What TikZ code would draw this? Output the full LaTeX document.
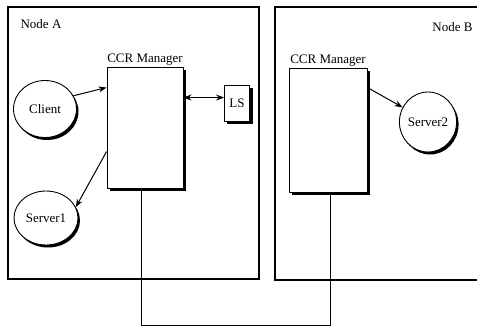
\documentclass[tikz,border=0pt]{standalone}
\usepackage{fontspec}
\setmainfont{Liberation Serif}
\usetikzlibrary{arrows.meta,shapes.geometric,shadows}
\begin{document}
\begin{tikzpicture}[
  x=1pt, y=-1pt,
  every node/.style = {font=\fontsize{13}{15}\selectfont},
  ccrframe/.style = {draw, line width=1.2pt},
  ccrbox/.style = {draw, fill=white, line width=0.9pt,
    drop shadow={shadow xshift=3pt, shadow yshift=-3pt, fill=black, opacity=1}},
  ccrproc/.style = {ellipse, draw, fill=white, line width=0.9pt, inner sep=0pt,
    drop shadow={shadow xshift=2pt, shadow yshift=-2.5pt, fill=black, opacity=1}},
  ccrarrow/.style = {-{Stealth[length=8pt,width=6pt]}, line width=1pt},
  ccrlink/.style = {line width=0.8pt}
]
  \useasboundingbox (0,0) rectangle (477,329);
  % hosts
  \draw[ccrframe] (8,7) rectangle (259,279);
  \draw[ccrframe] (478,7) -- (275,7) -- (275,280) -- (478,280);
  \node (hostA) at (41,24) {Node A};
  \node[anchor=east] (hostB) at (476,27) {Node B};
  % CCR managers
  \node[ccrbox, minimum width=76pt, minimum height=121pt,
    label={[inner sep=1pt]above:CCR Manager}] (mgrA) at (145,127.5) {};
  \node[ccrbox, minimum width=78pt, minimum height=124pt,
    label={[inner sep=1pt]above:CCR Manager}] (mgrB) at (328,130) {};
  % processes
  \node[ccrproc, minimum width=63pt, minimum height=57pt] (client) at (45,109) {Client};
  \node[ccrproc, minimum width=64pt, minimum height=54pt] (server1) at (46,218) {Server1};
  \node[ccrproc, minimum width=57pt, minimum height=60pt] (server2) at (428,122) {Server2};
  \node[ccrbox, minimum width=25pt, minimum height=36pt, inner sep=2pt,
    drop shadow={shadow xshift=2.5pt, shadow yshift=-3pt, fill=black, opacity=1}]
    (ls) at (237,103) {LS};
  % connectors
  \draw[ccrarrow] (client.25) -- ([yshift=-21pt]mgrA.north west);
  \draw[ccrarrow] ([yshift=-85pt]mgrA.north west) -- (server1.20);
  \draw[ccrarrow, {Stealth[length=8pt,width=6pt]}-{Stealth[length=8pt,width=6pt]}]
    ([yshift=-31pt]mgrA.north east) -- ([yshift=-31pt]mgrA.north east -| ls.west);
  \draw[ccrarrow] ([yshift=-20pt]mgrB.north east) -- (server2.150);
  \draw[ccrlink] ([xshift=-4pt]mgrA.south) -- ++(0,137) -| ([xshift=2pt]mgrB.south);
\end{tikzpicture}
\end{document}
